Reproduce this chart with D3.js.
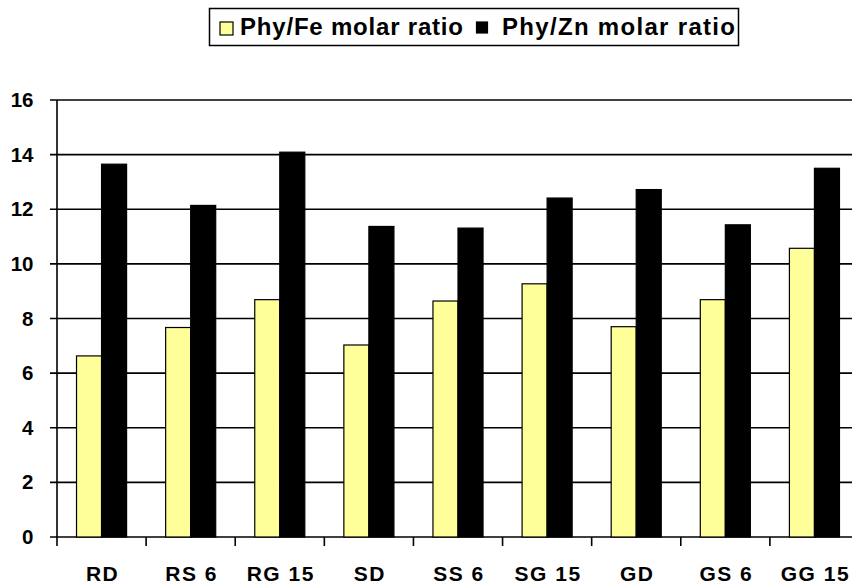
<!DOCTYPE html>
<html>
<head>
<meta charset="utf-8">
<script src="https://cdn.jsdelivr.net/npm/d3@7"></script>
<style>
  html, body { margin: 0; padding: 0; background: #fff; }
  svg { display: block; }
  text { font-family: Arial, "Liberation Sans", sans-serif; font-weight: bold; fill: #000; }
</style>
</head>
<body>
<svg id="chart" width="852" height="585"></svg>
<script>
const categories = ["RD", "RS 6", "RG 15", "SD", "SS 6", "SG 15", "GD", "GS 6", "GG 15"];
const seriesNames = ["Phy/Fe molar ratio", "Phy/Zn molar ratio"];
const seriesColors = ["#FFFF99", "#000000"];
const feRatio = [6.63, 7.67, 8.69, 7.03, 8.64, 9.27, 7.70, 8.69, 10.57];
const znRatio = [13.65, 12.14, 14.09, 11.37, 11.31, 12.41, 12.72, 11.43, 13.50];
const yTicks = [0, 2, 4, 6, 8, 10, 12, 14, 16];

const svg = d3.select("#chart");
const plotLeft = 57, plotRight = 859, plotTop = 100, plotBottom = 537;

const x = d3.scaleBand().domain(categories).range([plotLeft, plotRight]).padding(0);
const x1 = d3.scaleBand().domain(seriesNames).range([0, x.bandwidth()]).paddingInner(0).paddingOuter(0.78);
const y = d3.scaleLinear().domain([0, 16]).range([plotBottom, plotTop]);

// gridlines
svg.append("g").selectAll("line").data(yTicks).join("line")
  .attr("x1", plotLeft - 7).attr("x2", 852)
  .attr("y1", d => y(d)).attr("y2", d => y(d))
  .attr("stroke", "#000").attr("stroke-width", 1.6);

// y axis line
svg.append("line").attr("x1", plotLeft).attr("x2", plotLeft).attr("y1", plotTop).attr("y2", plotBottom + 9)
  .attr("stroke", "#000").attr("stroke-width", 1.6);

// x ticks at band boundaries
const bounds = categories.map(c => x(c)).concat([x(categories[categories.length - 1]) + x.bandwidth()]);
svg.append("g").selectAll("line").data(bounds.slice(1)).join("line")
  .attr("x1", d => d).attr("x2", d => d).attr("y1", plotBottom).attr("y2", plotBottom + 9)
  .attr("stroke", "#000").attr("stroke-width", 1.6);

// bars
const data = categories.map((c, i) => ({ cat: c, vals: [feRatio[i], znRatio[i]] }));
const groups = svg.append("g").selectAll("g").data(data).join("g")
  .attr("transform", d => `translate(${x(d.cat)},0)`);
groups.selectAll("rect").data(d => d.vals.map((v, j) => ({ v, j }))).join("rect")
  .attr("x", d => x1(seriesNames[d.j]))
  .attr("width", x1.bandwidth())
  .attr("y", d => y(d.v))
  .attr("height", d => y(0) - y(d.v))
  .attr("fill", d => seriesColors[d.j])
  .attr("stroke", "#000").attr("stroke-width", 1.2);

// y tick labels
svg.append("g").selectAll("text").data(yTicks).join("text")
  .attr("x", 33.5).attr("y", d => y(d) + 7)
  .attr("text-anchor", "end").attr("font-size", 20.5)
  .text(d => d);

// x labels
svg.append("g").selectAll("text").data(categories).join("text")
  .attr("x", d => x(d) + x.bandwidth() / 2 + 1).attr("y", 581)
  .attr("text-anchor", "middle").attr("font-size", 21)
  .attr("letter-spacing", "1.5px")
  .text(d => d);

// legend
const lg = svg.append("g");
lg.append("rect").attr("x", 209.5).attr("y", 8.5).attr("width", 529).attr("height", 37)
  .attr("fill", "#fff").attr("stroke", "#000").attr("stroke-width", 1.5);
const legendSwatchX = [220, 476.5];
const legendTextX = [240, 502];
const legendTextLen = [223, 233];
seriesNames.forEach((s, i) => {
  lg.append("rect").attr("x", legendSwatchX[i]).attr("y", 22).attr("width", i === 0 ? 13 : 11).attr("height", i === 0 ? 13 : 11)
    .attr("fill", seriesColors[i]).attr("stroke", "#000").attr("stroke-width", 1.2);
  lg.append("text").attr("x", legendTextX[i]).attr("y", 35)
    .attr("font-size", 24)
    .attr("textLength", legendTextLen[i]).attr("lengthAdjust", "spacing")
    .text(s);
});
</script>
</body>
</html>
